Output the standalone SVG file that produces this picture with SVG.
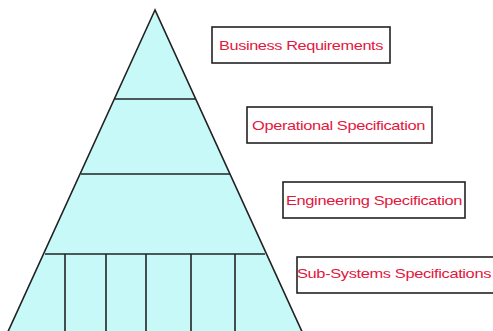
<svg xmlns="http://www.w3.org/2000/svg" width="493" height="331" viewBox="0 0 493 331">
<style>
.tier{fill:#c8f9f9;stroke:#222;stroke-width:1.6}
.ln{stroke:#222;stroke-width:1.6;fill:none}
.box{fill:#fff;stroke:#222;stroke-width:1.6}
.lbl{font-family:"Liberation Sans",Arial,sans-serif;font-size:13px;fill:#e3163e;letter-spacing:-0.3px}
</style>
<rect width="493" height="331" fill="#fff"/>
<g id="pyramid">
<polygon class="tier" points="155,10 6,336 304,336"/>
</g>
<g id="connectors">
<line class="ln" x1="115" y1="99" x2="195" y2="99"/>
<line class="ln" x1="81" y1="174" x2="230" y2="174"/>
<line class="ln" x1="45" y1="254" x2="265" y2="254"/>
<line class="ln" x1="65" y1="254" x2="65" y2="331"/>
<line class="ln" x1="106" y1="254" x2="106" y2="331"/>
<line class="ln" x1="146" y1="254" x2="146" y2="331"/>
<line class="ln" x1="191" y1="254" x2="191" y2="331"/>
<line class="ln" x1="235" y1="254" x2="235" y2="331"/>
</g>
<g id="business">
<rect class="box" x="212" y="27" width="178" height="36"/>
<text class="lbl" x="219" y="50" textLength="164" lengthAdjust="spacingAndGlyphs">Business Requirements</text>
</g>
<g id="operational">
<rect class="box" x="247" y="107" width="185" height="36"/>
<text class="lbl" x="252" y="130" textLength="173" lengthAdjust="spacingAndGlyphs">Operational Specification</text>
</g>
<g id="engineering">
<rect class="box" x="283" y="182" width="182" height="36"/>
<text class="lbl" x="286" y="205" textLength="176" lengthAdjust="spacingAndGlyphs">Engineering Specification</text>
</g>
<g id="subsystems">
<rect class="box" x="297" y="257" width="210" height="36"/>
<text class="lbl" x="297" y="278" textLength="194" lengthAdjust="spacingAndGlyphs">Sub-Systems Specifications</text>
</g>
</svg>
